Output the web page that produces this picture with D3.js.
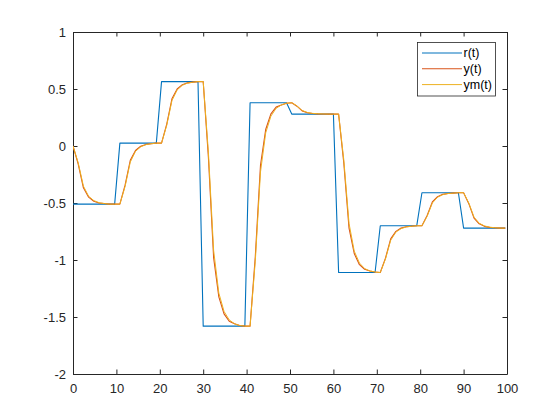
<!DOCTYPE html>
<html>
<head>
<meta charset="utf-8">
<script src="https://cdn.jsdelivr.net/npm/d3@7"></script>
<style>
  html, body { margin: 0; padding: 0; background: #ffffff; }
  svg { display: block; }
  text { font-family: "Liberation Sans", Arial, Helvetica, sans-serif; }
</style>
</head>
<body>
<svg id="chart" width="560" height="420"></svg>
<script>
// ---- data ----
const time = [0, 1.2, 2.4, 3.6, 4.8, 6.0, 7.2, 8.4, 9.6, 10.8,
  12.0, 13.2, 14.4, 15.6, 16.8, 18.0, 19.2, 20.4, 21.6, 22.8,
  24.0, 25.2, 26.4, 27.6, 28.8, 30.0, 31.2, 32.4, 33.6, 34.8,
  36.0, 37.2, 38.4, 39.6, 40.8, 42.0, 43.2, 44.4, 45.6, 46.8,
  48.0, 49.2, 50.4, 51.6, 52.8, 54.0, 55.2, 56.4, 57.6, 58.8,
  60.0, 61.2, 62.4, 63.6, 64.8, 66.0, 67.2, 68.4, 69.6, 70.8,
  72.0, 73.2, 74.4, 75.6, 76.8, 78.0, 79.2, 80.4, 81.6, 82.8,
  84.0, 85.2, 86.4, 87.6, 88.8, 90.0, 91.2, 92.4, 93.6, 94.8,
  96.0, 97.2, 98.4, 99.6];

const rValues = [-0.51, -0.51, -0.51, -0.51, -0.51, -0.51, -0.51, -0.51, -0.51, 0.025,
  0.025, 0.025, 0.025, 0.025, 0.025, 0.025, 0.025, 0.565, 0.565, 0.565,
  0.565, 0.565, 0.565, 0.565, 0.565, -1.58, -1.58, -1.58, -1.58, -1.58,
  -1.58, -1.58, -1.58, -1.58, 0.38, 0.38, 0.38, 0.38, 0.38, 0.38,
  0.38, 0.38, 0.28, 0.28, 0.28, 0.28, 0.28, 0.28, 0.28, 0.28,
  0.28, -1.11, -1.11, -1.11, -1.11, -1.11, -1.11, -1.11, -1.11, -0.70,
  -0.70, -0.70, -0.70, -0.70, -0.70, -0.70, -0.70, -0.41, -0.41, -0.41,
  -0.41, -0.41, -0.41, -0.41, -0.41, -0.72, -0.72, -0.72, -0.72, -0.72,
  -0.72, -0.72, -0.72, -0.72];

const yValues = [0, -0.158, -0.367, -0.449, -0.485, -0.500, -0.505, -0.51, -0.51, -0.51,
  -0.344, -0.125, -0.039, -0.002, 0.014, 0.020, 0.025, 0.025, 0.192, 0.414,
  0.500, 0.538, 0.554, 0.560, 0.565, 0.565, -0.100, -0.979, -1.323, -1.473,
  -1.537, -1.559, -1.575, -1.58, -1.58, -0.972, -0.169, 0.145, 0.282, 0.341,
  0.360, 0.375, 0.38, 0.349, 0.308, 0.292, 0.285, 0.282, 0.281, 0.28,
  0.28, 0.28, -0.151, -0.721, -0.943, -1.041, -1.082, -1.096, -1.105, -1.11,
  -0.983, -0.815, -0.749, -0.720, -0.708, -0.704, -0.70, -0.70, -0.610, -0.491,
  -0.445, -0.424, -0.416, -0.413, -0.41, -0.41, -0.506, -0.633, -0.683, -0.705,
  -0.714, -0.717, -0.72, -0.72];

const ymValues = [0, -0.148, -0.352, -0.441, -0.479, -0.497, -0.505, -0.51, -0.51, -0.51,
  -0.355, -0.141, -0.047, -0.007, 0.012, 0.020, 0.025, 0.025, 0.182, 0.398,
  0.492, 0.533, 0.552, 0.560, 0.565, 0.565, -0.057, -0.915, -1.290, -1.451,
  -1.526, -1.559, -1.575, -1.58, -1.58, -1.012, -0.228, 0.115, 0.262, 0.331,
  0.360, 0.375, 0.38, 0.351, 0.311, 0.294, 0.286, 0.283, 0.281, 0.28,
  0.28, 0.28, -0.123, -0.679, -0.922, -1.027, -1.075, -1.096, -1.105, -1.11,
  -0.991, -0.827, -0.755, -0.725, -0.710, -0.704, -0.70, -0.70, -0.616, -0.500,
  -0.449, -0.427, -0.417, -0.413, -0.41, -0.41, -0.500, -0.624, -0.678, -0.701,
  -0.712, -0.717, -0.72, -0.72];

const seriesNames = ["r(t)", "y(t)", "ym(t)"];
const xTicks = [0, 10, 20, 30, 40, 50, 60, 70, 80, 90, 100];
const yTicks = [-2, -1.5, -1, -0.5, 0, 0.5, 1];
const yTickLabels = ["-2", "-1.5", "-1", "-0.5", "0", "0.5", "1"];

// ---- layout ----
const svg = d3.select("#chart");
const W = 560, H = 420;
const pLeft = 73, pTop = 32, pRight = 507, pBottom = 374;
const colors = ["#0072BD", "#D95319", "#EDB120"];
const widths = [1.1, 1.1, 1.0];
const axisColor = "#262626";

svg.append("rect").attr("width", W).attr("height", H).attr("fill", "#ffffff");

const x = d3.scaleLinear().domain([0, 100]).range([pLeft, pRight]);
const y = d3.scaleLinear().domain([-2, 1]).range([pBottom, pTop]);

const tickLen = 4.5;

const gx = svg.append("g").attr("transform", `translate(0,${pBottom})`)
  .call(d3.axisBottom(x).tickValues(xTicks).tickSizeInner(-tickLen).tickSizeOuter(0).tickPadding(9.5).tickFormat(d3.format("d")));
const gxt = svg.append("g").attr("transform", `translate(0,${pTop})`)
  .call(d3.axisTop(x).tickValues(xTicks).tickSizeInner(-tickLen).tickSizeOuter(0).tickFormat(""));
const gy = svg.append("g").attr("transform", `translate(${pLeft},0)`)
  .call(d3.axisLeft(y).tickValues(yTicks).tickSizeInner(-tickLen).tickSizeOuter(0).tickPadding(7)
    .tickFormat((d, i) => yTickLabels[i]));
const gyr = svg.append("g").attr("transform", `translate(${pRight},0)`)
  .call(d3.axisRight(y).tickValues(yTicks).tickSizeInner(-tickLen).tickSizeOuter(0).tickFormat(""));

[gx, gxt, gy, gyr].forEach(g => {
  g.selectAll(".domain").attr("stroke", axisColor).attr("stroke-width", 1);
  g.selectAll(".tick line").attr("stroke", axisColor).attr("stroke-width", 1);
  g.selectAll(".tick text").attr("fill", axisColor).attr("font-size", "13px")
    .attr("font-family", "'Liberation Sans', Arial, Helvetica, sans-serif");
});

svg.append("clipPath").attr("id", "clip").append("rect")
  .attr("x", pLeft).attr("y", pTop).attr("width", pRight - pLeft).attr("height", pBottom - pTop);

const line = d3.line().x(d => x(d[0])).y(d => y(d[1]));
const allSeries = [rValues, yValues, ymValues];
const plot = svg.append("g").attr("clip-path", "url(#clip)");
allSeries.forEach((vals, i) => {
  plot.append("path")
    .datum(time.map((t, k) => [t, vals[k]]))
    .attr("fill", "none")
    .attr("stroke", colors[i])
    .attr("stroke-width", widths[i])
    .attr("stroke-linejoin", "round")
    .attr("d", line);
});

// legend
const lg = svg.append("g");
const lgX = 417.5, lgY = 42.5, lgW = 78, lgH = 53.5;
lg.append("rect").attr("x", lgX).attr("y", lgY).attr("width", lgW).attr("height", lgH)
  .attr("fill", "#ffffff").attr("stroke", axisColor).attr("stroke-width", 0.8);
seriesNames.forEach((name, i) => {
  const cy = lgY + 10.5 + i * 15.8;
  lg.append("line").attr("x1", lgX + 4.5).attr("x2", lgX + 44.5).attr("y1", cy).attr("y2", cy)
    .attr("stroke", colors[i]).attr("stroke-width", widths[i]);
  lg.append("text").attr("x", lgX + 46).attr("y", cy).attr("dy", "0.35em")
    .attr("font-size", "12.5px").attr("fill", "#000000").text(name);
});
</script>
</body>
</html>
